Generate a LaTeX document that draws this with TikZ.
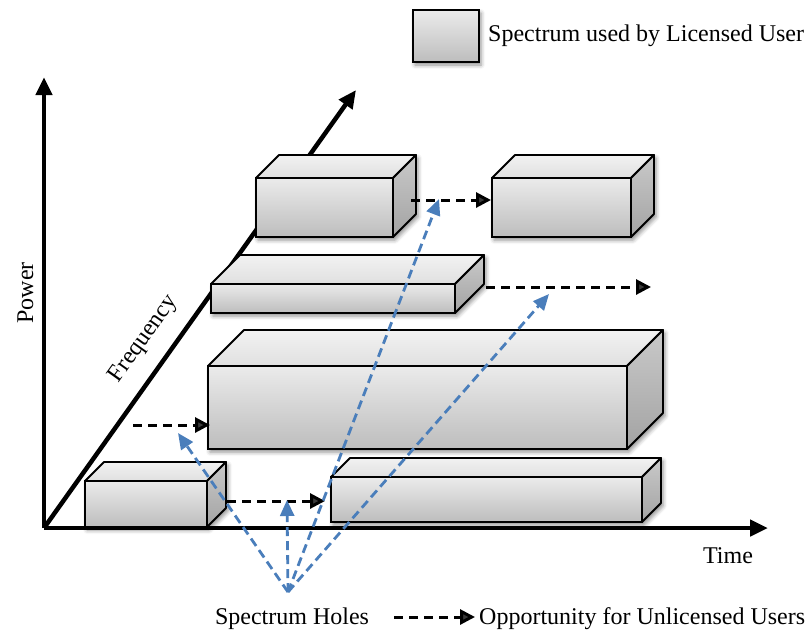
\documentclass[tikz,border=0pt]{standalone}
\usepackage{fontspec}
\setmainfont{Liberation Serif}
\usetikzlibrary{arrows.meta,fit,shadows.blur}
\definecolor{holeblue}{HTML}{4A7EBB}
\definecolor{ftop}{HTML}{EBEBEB}
\definecolor{fbot}{HTML}{BDBDBD}
\definecolor{ttop}{HTML}{F2F2F2}
\definecolor{tbot}{HTML}{E0E0E0}
\definecolor{stop}{HTML}{C9C9C9}
\definecolor{sbot}{HTML}{A3A3A3}
\tikzset{
  every node/.style={font=\fontsize{24}{28}\selectfont, inner sep=0pt},
  boxshadow/.style={fill=white, blur shadow={shadow xshift=2pt, shadow yshift=-3pt, shadow blur radius=4pt, shadow opacity=45}},
  topface/.style={draw=black, line width=1.8pt, line join=round, top color=ttop, bottom color=tbot},
  sideface/.style={draw=black, line width=1.8pt, line join=round, top color=stop, bottom color=sbot},
  frontface/.style={draw=black, line width=1.8pt, rectangle, inner sep=0pt, top color=ftop, bottom color=fbot},
  axis/.style={line width=4.5pt, -{Triangle[length=18pt,width=16pt]}},
  opparrow/.style={line width=3pt, dash pattern=on 9pt off 6pt, -{Triangle[length=15pt,width=15pt]}},
  holearrow/.style={holeblue, line width=2.8pt, dash pattern=on 9pt off 5pt, -{Triangle[length=16pt,width=14pt]}},
}
\newcommand\cuboid[6]{%
  \path[boxshadow] (#2,#5) -- (#2,#3) -- (#2+#6,#3-#6) -- (#4+#6,#3-#6) -- (#4+#6,#5-#6) -- (#4,#5) -- cycle;
  \draw[topface] (#2,#3) -- (#2+#6,#3-#6) -- (#4+#6,#3-#6) -- (#4,#3) -- cycle;
  \draw[sideface] (#4,#3) -- (#4+#6,#3-#6) -- (#4+#6,#5-#6) -- (#4,#5) -- cycle;
  \node[frontface, fit={(#2,#3) (#4,#5)}] (#1) {};
}
\begin{document}
\begin{tikzpicture}[x=1pt,y=-1pt]
\useasboundingbox (0,0) rectangle (806,633);
% axes
\coordinate (O) at (44,528);
\coordinate (P) at (44,77);
\coordinate (T) at (768,528);
\coordinate (F) at (356,90);
\draw[axis] (O) -- (P);
\draw[axis] (O) -- (T);
\draw[axis] (O) -- (F);
\node[rotate=90, anchor=base] (power) at (33,293) {Power};
\node[rotate=54.5] (freq) at (144,339) {Frequency};
\node[anchor=base] (time) at (728,563) {Time};
% boxes (back to front)
\cuboid{b5}{256}{178}{393}{237}{23}
\cuboid{b6}{492}{178}{631}{237}{23}
\cuboid{b4}{211}{284}{455}{313}{29}
\cuboid{b3}{208}{366}{627}{449}{36}
\cuboid{b1}{85}{481}{207}{527}{19}
\cuboid{b2}{331}{477}{642}{522}{19}
% opportunity arrows
\coordinate (a1s) at (227,501); \coordinate (a1e) at (325,501);
\coordinate (a2s) at (133,425); \coordinate (a2e) at (210,425);
\coordinate (a3s) at (411,200); \coordinate (a3e) at (491,200);
\coordinate (a4s) at (486,287); \coordinate (a4e) at (651,287);
\draw[opparrow] (a1s) -- (a1e);
\draw[opparrow] (a2s) -- (a2e);
\draw[opparrow] (a3s) -- (a3e);
\draw[opparrow] (a4s) -- (a4e);
% spectrum holes
\coordinate (H) at (288,592);
\coordinate (h1) at (178,433);
\coordinate (h2) at (287,500);
\coordinate (h3) at (439,199);
\coordinate (h4) at (549,294);
\draw[holearrow] (H) -- (h1);
\draw[holearrow] (H) -- (h2);
\draw[holearrow] (H) -- (h3);
\draw[holearrow] (H) -- (h4);
% legend
\node[frontface, minimum width=66pt, minimum height=52pt, blur shadow={shadow xshift=2pt, shadow yshift=-3pt, shadow blur radius=4pt, shadow opacity=45}] (legbox) at (446,36) {};
\node[anchor=base west] (legtext) at (488,41) {Spectrum used by Licensed User};
\node[anchor=base] (holes) at (292,624) {Spectrum Holes};
\coordinate (ls) at (394,617);
\coordinate (le) at (475,617);
\draw[opparrow] (ls) -- (le);
\node[anchor=base west] (opp) at (479,624) {Opportunity for Unlicensed Users};
\end{tikzpicture}
\end{document}
